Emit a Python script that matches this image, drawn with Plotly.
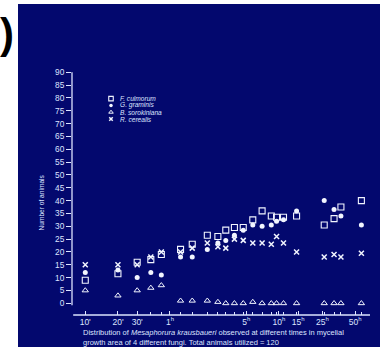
import plotly.graph_objects as go

# ---- data ----
times_h = [0.167, 0.333, 0.5, 0.667, 0.833, 1.25, 1.6, 2.2, 2.75, 3.25, 3.9, 4.7,
           5.75, 7, 8.5, 9.5, 11, 14.5, 26, 32, 37, 57]
f_culmorum = [9, 11.5, 16, 17, 19, 21, 23, 26.5, 26, 28.5, 29.5, 29.5,
              32.5, 36, 34, 33.5, 33.5, 34, 30.5, 33, 37.5, 40]
g_graminis = [12, 13, 10, 12, 11, 18, 18, 21, 23.5, 24.5, 26.5, 28.5,
              30.5, 30, 30.5, 32, 32.5, 36, 40, 36.5, 34, 30.5]
b_sorokiniana = [5, 3, 5, 6, 7, 1, 1, 1, 0.5, 0, 0, 0,
                 0.5, 0, 0, 0, 0, 0, 0, 0, 0, 0]
r_cerealis = [15, 15, 15, 18, 20, 20, 21.5, 23.5, 22, 21.5, 25, 24.5,
              23.5, 23.5, 23, 26, 23.5, 20, 18, 19, 18, 19.5]

series_names = ["F. culmorum", "G. graminis", "B. sorokiniana", "R. cerealis"]
x_tick_vals = [0.1667, 0.3333, 0.5, 1, 5, 10, 15, 25, 50]
x_tick_text = ["10'", "20'", "30'", "1<sup>h</sup>", "5<sup>h</sup>", "10<sup>h</sup>",
               "15<sup>h</sup>", "25<sup>h</sup>", "50<sup>h</sup>"]
y_tick_vals = list(range(0, 95, 5))

# ---- style ----
W, H = 380, 348
NAVY = "#03086e"
FG = "#dde4ff"
PT = "#f2f5ff"
FONT = "Liberation Sans, Arial, sans-serif"

styles = [
    dict(symbol="square-open", size=6, color=PT, line=dict(width=1.1, color=PT)),
    dict(symbol="circle", size=5, color=PT, line=dict(width=0)),
    dict(symbol="triangle-up-open", size=5.5, color=PT, line=dict(width=1, color=PT)),
    dict(symbol="x-thin-open", size=5, color=PT, line=dict(width=1.5, color=PT)),
]
all_series = [f_culmorum, g_graminis, b_sorokiniana, r_cerealis]

fig = go.Figure()
for name, vals, st in zip(series_names, all_series, styles):
    fig.add_trace(go.Scatter(x=times_h, y=vals, mode="markers", name=name,
                             marker=st, showlegend=False, hoverinfo="skip"))

# legend symbols on a pixel overlay axis
leg_x = 111
leg_y = [98.6, 105.4, 112.2, 119]
for st, ly in zip(styles, leg_y):
    s = dict(st)
    s["size"] = max(3.5, s["size"] - 1.5)
    fig.add_trace(go.Scatter(x=[leg_x], y=[ly], mode="markers", marker=s,
                             xaxis="x2", yaxis="y2", showlegend=False, hoverinfo="skip"))

annotations = []
for name, ly in zip(series_names, leg_y):
    annotations.append(dict(text=f"<i>{name}</i>", x=118 / W, y=1 - ly / H, xref="paper",
                            yref="paper", xanchor="left", yanchor="middle", showarrow=False,
                            font=dict(size=6.6, color=FG, family=FONT)))
annotations.append(dict(text="Number of animals", textangle=-90, x=35 / W, y=1 - 233 / H,
                        xref="paper", yref="paper", showarrow=False,
                        font=dict(size=6.6, color=FG, family=FONT)))
annotations.append(dict(text="Distribution of <i>Mesaphorura krausbaueri</i> observed at different times in mycelial"
                             "<br>growth area of 4 different fungi. Total animals utilized = 120",
                        x=81 / W, y=1 - 337 / H, xref="paper", yref="paper", xanchor="left",
                        yanchor="middle", align="left", showarrow=False,
                        font=dict(size=7.5, color=FG, family=FONT)))
annotations.append(dict(text="<b>)</b>", x=-2 / W, y=1 - 33 / H, xref="paper", yref="paper",
                        xanchor="left", yanchor="middle", showarrow=False,
                        font=dict(size=42, color="#000000", family=FONT)))

shapes = [
    dict(type="rect", xref="paper", yref="paper", x0=18 / W, x1=1, y0=1 - 347 / H, y1=1 - 4 / H,
         fillcolor=NAVY, line=dict(width=0), layer="below"),
    dict(type="line", xref="x domain", yref="y", x0=0, x1=0, y0=-0.8, y1=90,
         line=dict(color=FG, width=1.3)),
    dict(type="line", xref="x domain", yref="y domain", x0=0.004, x1=1, y0=0, y1=0,
         line=dict(color=FG, width=1.3)),
]

fig.update_layout(
    width=W, height=H, margin=dict(l=0, r=0, t=0, b=0),
    paper_bgcolor="white", plot_bgcolor="rgba(0,0,0,0)",
    font=dict(family=FONT, color=FG),
    shapes=shapes, annotations=annotations, showlegend=False,
    xaxis=dict(type="log", range=[-0.899, 1.835], domain=[72 / W, 370 / W],
               showgrid=False, zeroline=False, showline=False,
               tickmode="array", tickvals=x_tick_vals, ticktext=x_tick_text,
               ticks="inside", ticklen=4, tickwidth=1, tickcolor=FG,
               tickfont=dict(size=8.5, color=FG, family=FONT),
               minor=dict(tickmode="array", tickvals=times_h, ticks="inside", ticklen=3,
                          tickwidth=1, tickcolor=FG, showgrid=False),
               anchor="y"),
    yaxis=dict(range=[-4.56, 91.66], domain=[1 - 315 / H, 1 - 68 / H],
               showgrid=False, zeroline=False, showline=False,
               tickmode="array", tickvals=y_tick_vals,
               ticks="outside", ticklen=5, tickwidth=1, tickcolor=FG,
               tickfont=dict(size=8.3, color=FG, family=FONT), anchor="x"),
    xaxis2=dict(domain=[0, 1], range=[0, W], visible=False, anchor="y2", fixedrange=True),
    yaxis2=dict(domain=[0, 1], range=[H, 0], visible=False, anchor="x2", fixedrange=True),
)

fig.write_html("out.html", config={"displayModeBar": False},
               post_script="document.body.style.margin='0';document.body.style.overflow='hidden';")
